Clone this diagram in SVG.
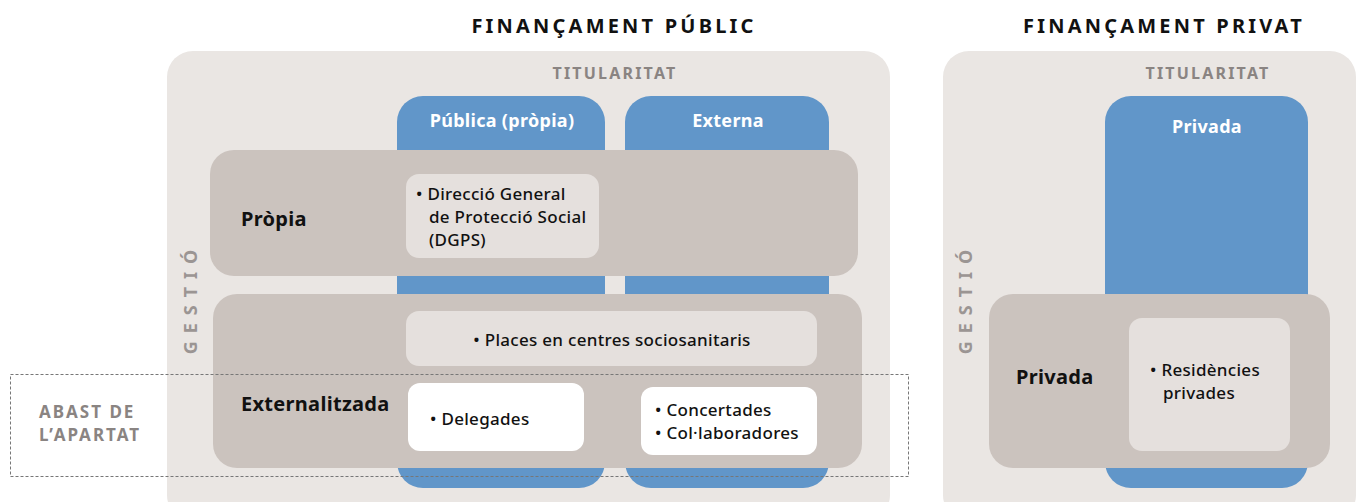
<svg xmlns="http://www.w3.org/2000/svg" width="1357" height="502" viewBox="0 0 1357 502">
<style>
.panel{fill:#eae6e3}
.col{fill:#6196c9}
.band{fill:#cbc3be}
.inner{fill:#e5e0dd}
.white{fill:#ffffff}
text{font-family:"Noto Sans","Open Sans",sans-serif}
.hdr{font-size:20px;font-weight:700;fill:#111;letter-spacing:3.2px;text-anchor:middle}
.tit{font-size:16px;font-weight:700;fill:#8a8482;letter-spacing:2.2px;text-anchor:middle}
.gest{font-size:18px;font-weight:700;fill:#9b9593;letter-spacing:8px;text-anchor:middle}
.colt{font-size:18px;font-weight:700;fill:#ffffff;text-anchor:middle;letter-spacing:0.3px}
.bandt{font-size:20px;font-weight:700;fill:#111;letter-spacing:0.3px}
.item{font-size:17px;font-weight:500;fill:#111;letter-spacing:0.3px}
.abast{font-size:17px;font-weight:700;fill:#8a8482;letter-spacing:2px}
</style>
<g id="titles">
<text class="hdr" x="614" y="33">FINANÇAMENT PÚBLIC</text>
<text class="hdr" x="1164" y="33">FINANÇAMENT PRIVAT</text>
</g>
<g id="panel-public">
<rect class="panel" x="167" y="51" width="723" height="470" rx="26"/>
<text class="tit" x="615" y="79">TITULARITAT</text>
<text class="gest" transform="translate(197,298) rotate(-90)">GESTIÓ</text>
</g>
<g id="col-publica">
<rect class="col" x="397" y="96" width="208" height="392" rx="26"/>
<text class="colt" x="502" y="127">Pública (pròpia)</text>
</g>
<g id="col-externa">
<rect class="col" x="625" y="96" width="204" height="392" rx="26"/>
<text class="colt" x="728" y="127">Externa</text>
</g>
<g id="band-propia">
<rect class="band" x="210" y="150" width="648" height="126" rx="24"/>
<text class="bandt" x="241" y="226">Pròpia</text>
</g>
<g id="box-dgps">
<rect class="inner" x="406" y="174" width="193" height="84" rx="13"/>
<text class="item" x="416" y="200">• Direcció General</text>
<text class="item" x="429" y="223">de Protecció Social</text>
<text class="item" x="429" y="246">(DGPS)</text>
</g>
<g id="band-externalitzada">
<rect class="band" x="213" y="294" width="649" height="174" rx="24"/>
<text class="bandt" x="241" y="411">Externalitzada</text>
</g>
<g id="box-places">
<rect class="inner" x="406" y="311" width="411" height="55" rx="13"/>
<text class="item" x="612" y="346" text-anchor="middle">• Places en centres sociosanitaris</text>
</g>
<g id="box-delegades">
<rect class="white" x="408" y="383" width="176" height="68" rx="12"/>
<text class="item" x="430" y="425">• Delegades</text>
</g>
<g id="box-concertades">
<rect class="white" x="641" y="387" width="176" height="68" rx="12"/>
<text class="item" x="655" y="416">• Concertades</text>
<text class="item" x="655" y="439">• Col·laboradores</text>
</g>
<g id="panel-private">
<rect class="panel" x="943" y="51" width="413" height="470" rx="26"/>
<text class="tit" x="1208" y="79">TITULARITAT</text>
<text class="gest" transform="translate(972,298) rotate(-90)">GESTIÓ</text>
</g>
<g id="col-privada">
<rect class="col" x="1105" y="96" width="203" height="392" rx="26"/>
<text class="colt" x="1207" y="133">Privada</text>
</g>
<g id="band-privada">
<rect class="band" x="989" y="294" width="341" height="174" rx="24"/>
<text class="bandt" x="1016" y="384">Privada</text>
</g>
<g id="box-residencies">
<rect class="inner" x="1129" y="318" width="161" height="133" rx="13"/>
<text class="item" x="1150" y="376">• Residències</text>
<text class="item" x="1163" y="399">privades</text>
</g>
<g id="connectors"></g>
<g id="scope">
<rect x="10.5" y="374.5" width="898" height="102" fill="none" stroke="#777" stroke-width="1" stroke-dasharray="3,2"/>
<text class="abast" x="39" y="418">ABAST DE</text>
<text class="abast" x="39" y="441">L’APARTAT</text>
</g>
</svg>
